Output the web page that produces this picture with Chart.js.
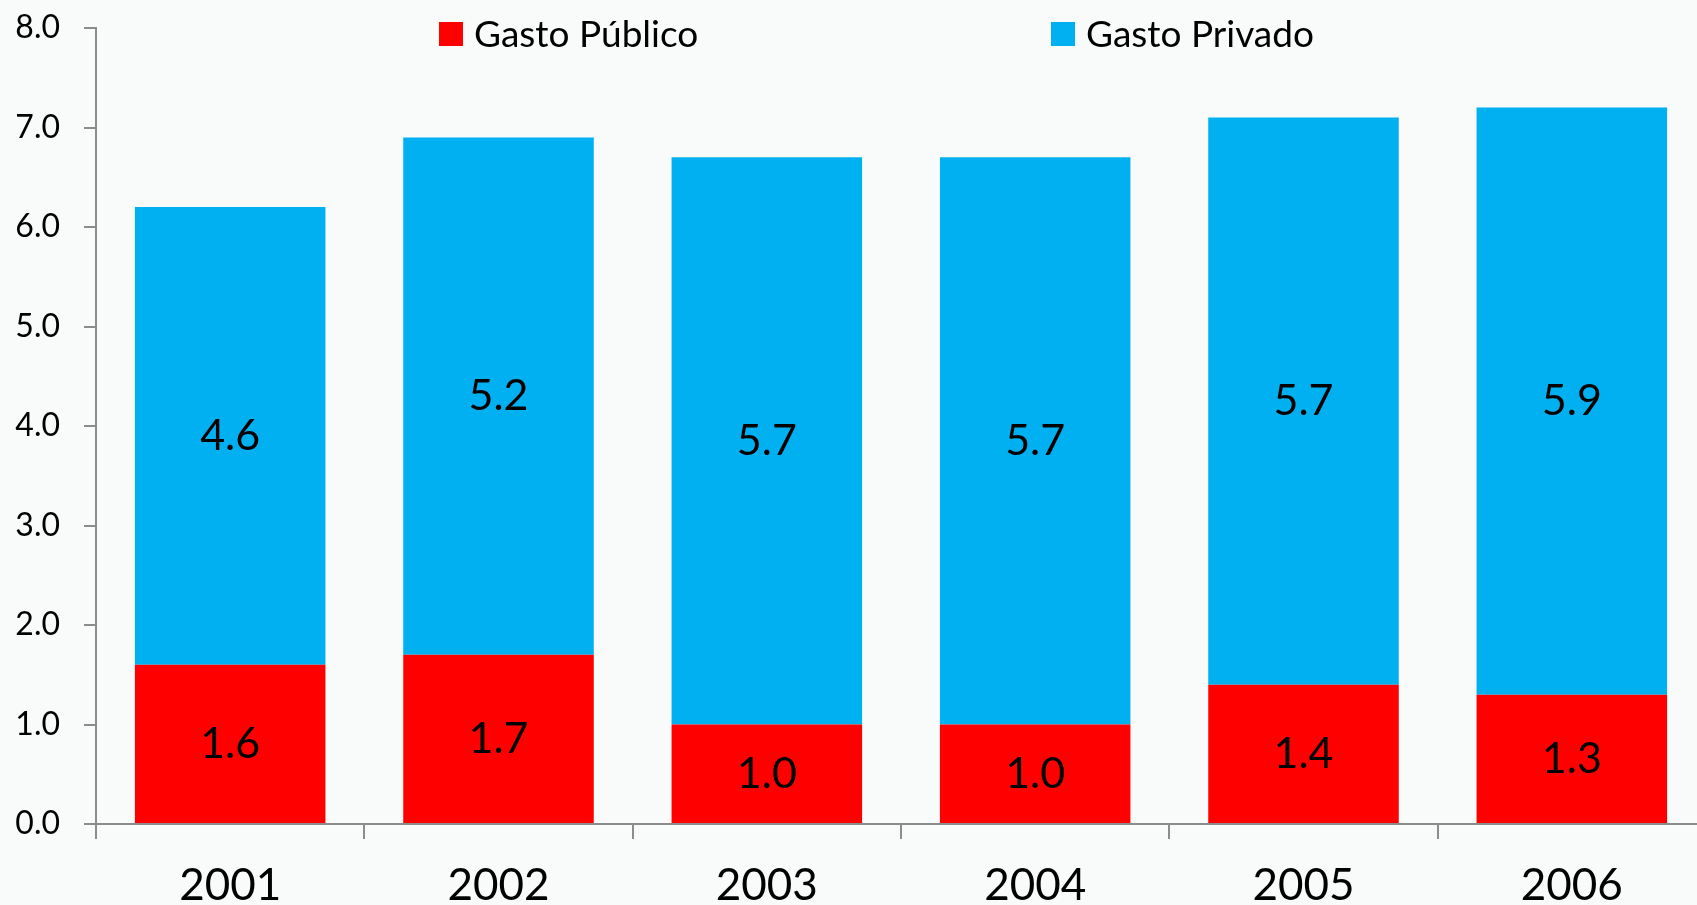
<!DOCTYPE html>
<html>
<head>
<meta charset="utf-8">
<script src="https://cdn.jsdelivr.net/npm/chart.js"></script>
<style>
  html, body { margin: 0; padding: 0; background: #f9fafa; overflow: hidden; }
  canvas { display: block; }
</style>
</head>
<body>
<canvas id="gasto" width="1710" height="905"></canvas>
<script>
const years = ["2001", "2002", "2003", "2004", "2005", "2006"];
const gastoPublico = [1.6, 1.7, 1.0, 1.0, 1.4, 1.3];
const gastoPrivado = [4.6, 5.2, 5.7, 5.7, 5.7, 5.9];
const yTicks = [0, 1, 2, 3, 4, 5, 6, 7, 8];

const FONT = "Lato, 'Open Sans', sans-serif";
const axisColor = "#8c8c8c";

// values written in the middle of each bar segment
const barValues = {
  id: "barValues",
  afterDatasetsDraw(chart) {
    const ctx = chart.ctx;
    ctx.save();
    ctx.font = "43px " + FONT;
    ctx.fillStyle = "#000";
    ctx.textAlign = "center";
    ctx.textBaseline = "middle";
    chart.data.datasets.forEach((ds, i) => {
      chart.getDatasetMeta(i).data.forEach((bar, j) => {
        ctx.fillText(ds.data[j].toFixed(1), bar.x, (bar.y + bar.base) / 2);
      });
    });
    ctx.restore();
  },
};

// legend sits over the top of the plot, like the original
const topLegend = {
  id: "topLegend",
  afterDraw(chart) {
    const ctx = chart.ctx;
    const starts = [439, 1051];
    ctx.save();
    ctx.font = "37px " + FONT;
    ctx.textBaseline = "middle";
    chart.data.datasets.forEach((ds, i) => {
      ctx.fillStyle = ds.backgroundColor;
      ctx.fillRect(starts[i], 22, 24, 24);
      ctx.fillStyle = "#000";
      ctx.fillText(ds.label, starts[i] + 35, 35);
    });
    ctx.restore();
  },
};

new Chart(document.getElementById("gasto"), {
  type: "bar",
  data: {
    labels: years,
    datasets: [
      { label: "Gasto Público", data: gastoPublico, backgroundColor: "#ff0000" },
      { label: "Gasto Privado", data: gastoPrivado, backgroundColor: "#00b0f0" },
    ],
  },
  options: {
    responsive: false,
    animation: false,
    layout: { padding: { top: 28, right: 4, left: 0, bottom: 0 } },
    datasets: { bar: { categoryPercentage: 1, barPercentage: 0.71 } },
    plugins: { legend: { display: false }, tooltip: { enabled: false } },
    scales: {
      x: {
        stacked: true,
        afterFit: (s) => { s.height = 81; s.paddingLeft = 0; s.paddingRight = 0; },
        border: { color: axisColor, width: 2 },
        grid: { drawOnChartArea: false, color: axisColor, lineWidth: 2, tickLength: 15, offset: true },
        ticks: { color: "#000", font: { family: FONT, size: 44 }, padding: 20 },
      },
      y: {
        stacked: true,
        min: 0,
        max: 8,
        afterFit: (s) => { s.width = 96; s.paddingTop = 0; s.paddingBottom = 0; },
        afterBuildTicks: (s) => { s.ticks = yTicks.map((v) => ({ value: v })); },
        border: { color: axisColor, width: 2 },
        grid: { drawOnChartArea: false, color: axisColor, lineWidth: 2, tickLength: 12 },
        ticks: {
          color: "#000",
          font: { family: FONT, size: 32 },
          padding: 24,
          callback: (v) => v.toFixed(1),
        },
      },
    },
  },
  plugins: [barValues, topLegend],
});
</script>
</body>
</html>
